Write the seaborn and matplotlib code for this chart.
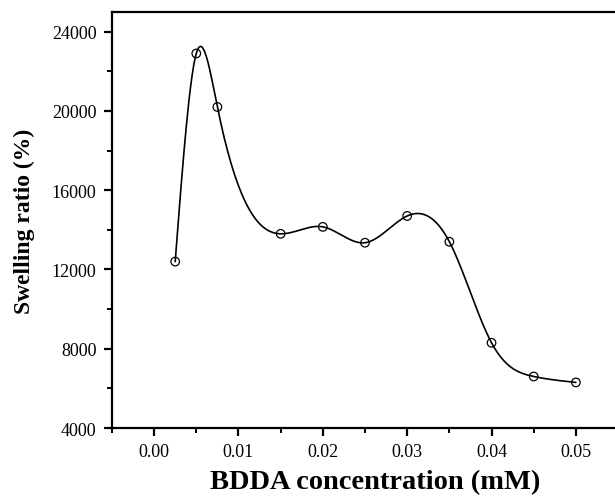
import matplotlib

matplotlib.use("Agg")
import matplotlib.pyplot as plt
import numpy as np
import pandas as pd
import seaborn as sns
from matplotlib.ticker import FormatStrFormatter, MultipleLocator

# data
concentration = [0.0025, 0.005, 0.0075, 0.015, 0.02, 0.025, 0.03, 0.035, 0.04, 0.045, 0.05]
swelling = [12400, 22900, 20200, 13800, 14150, 13350, 14700, 13400, 8300, 6600, 6300]

x_ticks = [0.00, 0.01, 0.02, 0.03, 0.04, 0.05]
y_ticks = [4000, 8000, 12000, 16000, 20000, 24000]


def natural_spline(x, y, n=500):
    # cubic spline through the points (like Origin's "spline" connector)
    x = np.asarray(x, dtype=float)
    y = np.asarray(y, dtype=float)
    h = np.diff(x)
    k = len(x)
    A = np.zeros((k, k))
    r = np.zeros(k)
    A[0, 0] = 1
    A[-1, -1] = 1
    for i in range(1, k - 1):
        A[i, i - 1] = h[i - 1]
        A[i, i] = 2 * (h[i - 1] + h[i])
        A[i, i + 1] = h[i]
        r[i] = 6 * ((y[i + 1] - y[i]) / h[i] - (y[i] - y[i - 1]) / h[i - 1])
    m = np.linalg.solve(A, r)
    xs = np.linspace(x[0], x[-1], n)
    idx = np.clip(np.searchsorted(x, xs) - 1, 0, k - 2)
    x0, x1 = x[idx], x[idx + 1]
    hh = x1 - x0
    t0, t1 = x1 - xs, xs - x0
    ys = (
        m[idx] * t0**3 / (6 * hh)
        + m[idx + 1] * t1**3 / (6 * hh)
        + (y[idx] / hh - m[idx] * hh / 6) * t0
        + (y[idx + 1] / hh - m[idx + 1] * hh / 6) * t1
    )
    return xs, ys


sns.set_theme(style="ticks")
plt.rcParams.update(
    {
        "font.family": ["Liberation Serif", "DejaVu Serif"],
        "text.color": "black",
        "axes.labelcolor": "black",
        "axes.linewidth": 1.6,
        "xtick.major.width": 1.6,
        "ytick.major.width": 1.6,
        "xtick.minor.width": 1.4,
        "ytick.minor.width": 1.4,
        "xtick.major.size": 6,
        "ytick.major.size": 6,
        "xtick.minor.size": 3.5,
        "ytick.minor.size": 3.5,
        "xtick.direction": "out",
        "ytick.direction": "out",
        "axes.edgecolor": "black",
        "xtick.color": "black",
        "ytick.color": "black",
        "xtick.labelcolor": "black",
        "ytick.labelcolor": "black",
    }
)

df = pd.DataFrame({"conc": concentration, "swell": swelling})
xs, ys = natural_spline(concentration, swelling)
curve = pd.DataFrame({"conc": xs, "swell": ys})

fig = plt.figure(figsize=(6.15, 5.02), dpi=100)
ax = fig.add_axes([0.182, 0.1454, 0.823, 0.829])

sns.lineplot(data=curve, x="conc", y="swell", color="black", linewidth=1.2, ax=ax)
sns.scatterplot(
    data=df,
    x="conc",
    y="swell",
    marker="o",
    s=38,
    facecolor="none",
    edgecolor="black",
    linewidth=0.9,
    ax=ax,
    zorder=3,
)

ax.set_xlim(-0.005, 0.055)
ax.set_ylim(4000, 25000)
ax.set_xticks(x_ticks)
ax.set_yticks(y_ticks)
ax.xaxis.set_minor_locator(MultipleLocator(0.005))
ax.yaxis.set_minor_locator(MultipleLocator(2000))
ax.xaxis.set_major_formatter(FormatStrFormatter("%.2f"))
ax.tick_params(axis="both", which="major", labelsize=13, pad=5)

for side in ["top", "right", "left", "bottom"]:
    ax.spines[side].set_visible(True)

ax.set_xlabel("BDDA concentration (mM)", fontsize=20.5, fontweight="bold")
ax.set_ylabel("Swelling ratio (%)", fontsize=17, fontweight="bold")
ax.xaxis.set_label_coords(0.52, -0.098)
ax.yaxis.set_label_coords(-0.152, 0.5)

fig.savefig("out.png", dpi=100)
plt.close(fig)
